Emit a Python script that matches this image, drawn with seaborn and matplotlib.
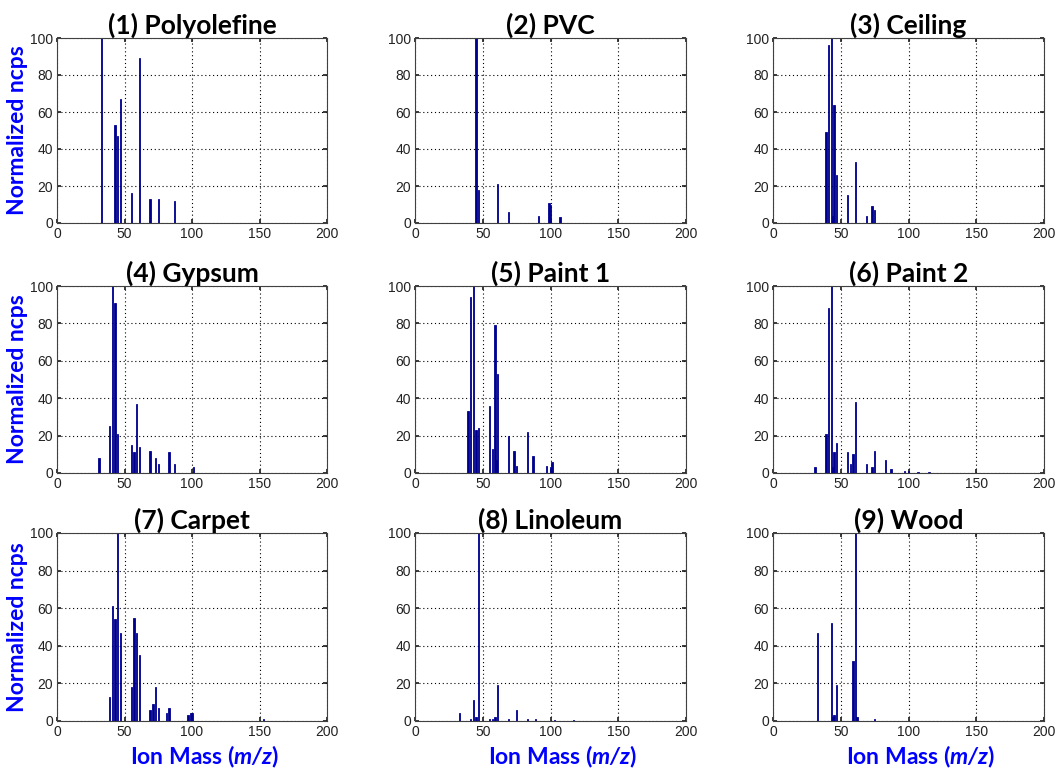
import numpy as np
import pandas as pd
import matplotlib
matplotlib.use("Agg")
import matplotlib.pyplot as plt
import seaborn as sns

sns.set_theme(style="white")
plt.rcParams['font.family'] = ['Liberation Sans', 'DejaVu Sans']
plt.rcParams['mathtext.fontset'] = 'custom'
plt.rcParams['mathtext.rm'] = 'Lato'
plt.rcParams['mathtext.bf'] = 'Lato:bold'
plt.rcParams['mathtext.it'] = 'Lato:italic'
plt.rcParams['mathtext.bfit'] = 'Lato:bold:italic'

titles = ["(1) Polyolefine", "(2) PVC", "(3) Ceiling", "(4) Gypsum", "(5) Paint 1",
          "(6) Paint 2", "(7) Carpet", "(8) Linoleum", "(9) Wood"]

mz_polyolefine = [33, 43, 45, 47, 55, 61, 69, 75, 87]
ncps_polyolefine = [100, 53, 47, 67, 16, 89, 13, 13, 12]

mz_pvc = [45, 47, 61, 69, 91, 99, 100, 107]
ncps_pvc = [100, 18, 21, 6, 4, 11, 10, 3]

mz_ceiling = [39, 41, 43, 44, 45, 47, 55, 61, 69, 73, 75]
ncps_ceiling = [49, 96, 100, 4, 64, 26, 15, 33, 4, 9, 7]

mz_gypsum = [31, 39, 41, 43, 45, 55, 57, 59, 61, 69, 73, 75, 83, 87, 101]
ncps_gypsum = [8, 25, 100, 91, 21, 15, 11, 37, 14, 12, 8, 5, 11, 5, 3]

mz_paint1 = [39, 41, 43, 45, 47, 55, 57, 59, 60, 61, 69, 73, 75, 83, 87, 97, 100, 101]
ncps_paint1 = [33, 94, 100, 23, 24, 36, 13, 79, 7, 53, 20, 12, 4, 22, 9, 4, 3, 6]

mz_paint2 = [31, 39, 41, 43, 44, 45, 47, 55, 57, 59, 61, 69, 73, 75, 83, 87, 97, 100, 107, 115]
ncps_paint2 = [3, 21, 88, 100, 3, 11, 16, 11, 5, 10, 38, 5, 3, 12, 7, 2, 1, 1, 0.7, 0.7]

mz_carpet = [39, 41, 43, 45, 47, 55, 57, 59, 61, 69, 71, 73, 75, 81, 83, 97, 99, 100, 153]
ncps_carpet = [13, 61, 54, 100, 47, 18, 55, 47, 35, 6, 9, 18, 7, 4, 7, 3, 4, 4, 0.8]

mz_linoleum = [33, 41, 43, 45, 47, 55, 57, 59, 61, 69, 75, 83, 89, 103, 117]
ncps_linoleum = [4, 1, 11, 2, 100, 1, 1, 2, 19, 1, 6, 1, 1, 0.5, 0.5]

mz_wood = [33, 43, 44, 45, 47, 59, 61, 62, 75]
ncps_wood = [47, 52, 2, 3, 19, 32, 100, 2, 1]

mz_all = [mz_polyolefine, mz_pvc, mz_ceiling, mz_gypsum, mz_paint1,
          mz_paint2, mz_carpet, mz_linoleum, mz_wood]
ncps_all = [ncps_polyolefine, ncps_pvc, ncps_ceiling, ncps_gypsum, ncps_paint1,
            ncps_paint2, ncps_carpet, ncps_linoleum, ncps_wood]

x_ticks = [0, 50, 100, 150, 200]
y_ticks = [0, 20, 40, 60, 80, 100]

bar_color = "#00008F"
label_color = "#0000FF"

W, H = 1059, 769
fig = plt.figure(figsize=(W / 100, H / 100), dpi=100)

col_left = [57, 415, 773]
col_width = [270, 271, 271]
row_top = [38, 286, 533]
row_bottom = [223, 473, 721]

for i in range(9):
    r, c = divmod(i, 3)
    l = col_left[c] / W
    b = 1 - row_bottom[r] / H
    w = col_width[c] / W
    h = (row_bottom[r] - row_top[r]) / H
    ax = fig.add_axes([l, b, w, h])
    df = pd.DataFrame({"mz": mz_all[i], "ncps": ncps_all[i]})
    sns.histplot(data=df, x="mz", weights="ncps", discrete=True, shrink=1.0,
                 color=bar_color, edgecolor=bar_color, linewidth=0.6, alpha=1.0, ax=ax)
    ax.set_xlim(0, 200)
    ax.set_ylim(0, 100)
    ax.set_xticks(x_ticks)
    ax.set_yticks(y_ticks)
    ax.grid(True, color="black", linestyle=(0, (1, 2.5)), linewidth=0.8)
    ax.set_axisbelow(True)
    ax.tick_params(direction="in", length=3, labelsize=10, colors="#222222",
                   pad=3, top=True, right=True, bottom=True, left=True)
    for s in ax.spines.values():
        s.set_color("#404040")
        s.set_linewidth(0.8)
    ax.set_xlabel("")
    ax.set_ylabel("")
    ax.set_title(titles[i], fontsize=19, fontweight="bold", family=["Lato", "DejaVu Sans"],
                 pad=3, color="black")
    if c == 0:
        ax.set_ylabel("Normalized ncps", fontsize=16.5, fontweight="bold",
                      family=["Lato", "DejaVu Sans"], color=label_color, labelpad=1)
    if r == 2:
        ax.text(0.545, -0.12, r"Ion Mass ($\mathbfit{m/z}$)", transform=ax.transAxes,
                ha="center", va="top", fontsize=16.5, fontweight="bold",
                family=["Lato", "DejaVu Sans"], color=label_color)

fig.savefig("out.png", dpi=100)
